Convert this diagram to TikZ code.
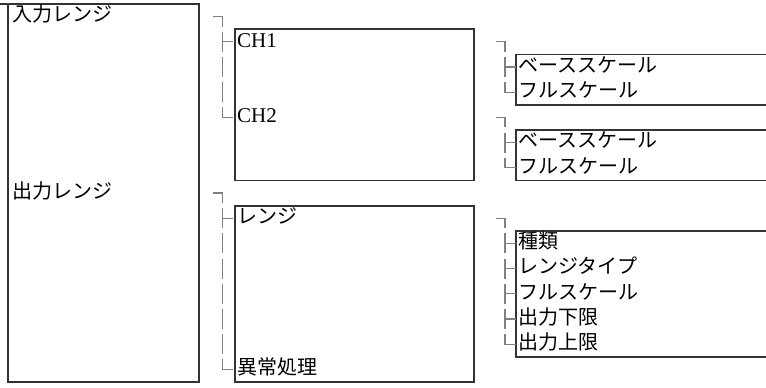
\documentclass[tikz,border=0pt]{standalone}
\usepackage{fontspec}
\setmainfont{Liberation Serif}
\newfontfamily\jp{Noto Sans CJK JP}
\usetikzlibrary{positioning}

\begin{document}
\begin{tikzpicture}[x=1pt, y=-1pt,
    frame/.style={draw=black!80, line width=1.8pt},
    item/.style={anchor=west, inner sep=0pt, yshift=-1.5pt,
                 font=\jp\fontsize{20}{25}\selectfont,
                 text height=0.88em, text depth=0.12em},
    latin/.style={item, font=\rmfamily\fontsize{21}{25}\selectfont},
    treeline/.style={draw=black!50, line width=1.2pt},
    treetop/.pic={\draw[treeline] (-9.5,0) -- (0,0) -- (0,10);},
    treetee/.pic={\draw[treeline] (0,-10) -- (0,10) (0,0) -- (10.5,0);},
    treebar/.pic={\draw[treeline] (0,-10) -- (0,10);},
    treeend/.pic={\draw[treeline] (0,-10) -- (0,0) -- (10.5,0);},
  ]
    \clip (0,0) rectangle (766,388);

    % frames
    \draw[frame] (0,4) -- (8,4) rectangle (199,382);
    \draw[frame] (235,29.2) rectangle (474,180.4);
    \draw[frame] (516,54.4) rectangle (790,104.8);
    \draw[frame] (516,130) rectangle (790,180.4);
    \draw[frame] (235,205.6) rectangle (474,382);
    \draw[frame] (516,230.8) rectangle (790,356.8);

    % first column
    \node[item] (inrange) at (12,16.6) {入力レンジ};
    \node[item] (outrange) at (12,193) {出力レンジ};

    % input side
    \pic (tin0) at (222.5,16.6) {treetop};
    \pic (tin1) at (222.5,41.8) {treetee};
    \pic (tin2) at (222.5,67) {treebar};
    \pic (tin3) at (222.5,92.2) {treebar};
    \pic (tin4) at (222.5,117.4) {treeend};
    \node[latin] (ch1) at (237,41.8) {CH1};
    \node[latin] (ch2) at (237,117.4) {CH2};

    \pic (tca0) at (505,41.8) {treetop};
    \pic (tca1) at (505,67) {treetee};
    \pic (tca2) at (505,92.2) {treeend};
    \node[item] (base1) at (518,67) {ベーススケール};
    \node[item] (full1) at (518,92.2) {フルスケール};

    \pic (tcb0) at (505,117.4) {treetop};
    \pic (tcb1) at (505,142.6) {treetee};
    \pic (tcb2) at (505,167.8) {treeend};
    \node[item] (base2) at (518,142.6) {ベーススケール};
    \node[item] (full2) at (518,167.8) {フルスケール};

    % output side
    \pic (tout0) at (222.5,193) {treetop};
    \pic (tout1) at (222.5,218.2) {treetee};
    \foreach \y [count=\i] in {243.4,268.6,293.8,319,344.2}
      \pic (bar\i) at (222.5,\y) {treebar};
    \pic (tout7) at (222.5,369.4) {treeend};
    \node[item] (rng) at (237,218.2) {レンジ};
    \node[item] (err) at (237,369.4) {異常処理};

    \pic (tr0) at (505,218.2) {treetop};
    \foreach \y [count=\i] in {243.4,268.6,293.8,319}
      \pic (tr\i) at (505,\y) {treetee};
    \pic (tr5) at (505,344.2) {treeend};
    \node[item] (kind) at (518,243.4) {種類};
    \node[item] (rtype) at (518,268.6) {レンジタイプ};
    \node[item] (full3) at (518,293.8) {フルスケール};
    \node[item] (lower) at (518,319) {出力下限};
    \node[item] (upper) at (518,344.2) {出力上限};
\end{tikzpicture}
\end{document}
